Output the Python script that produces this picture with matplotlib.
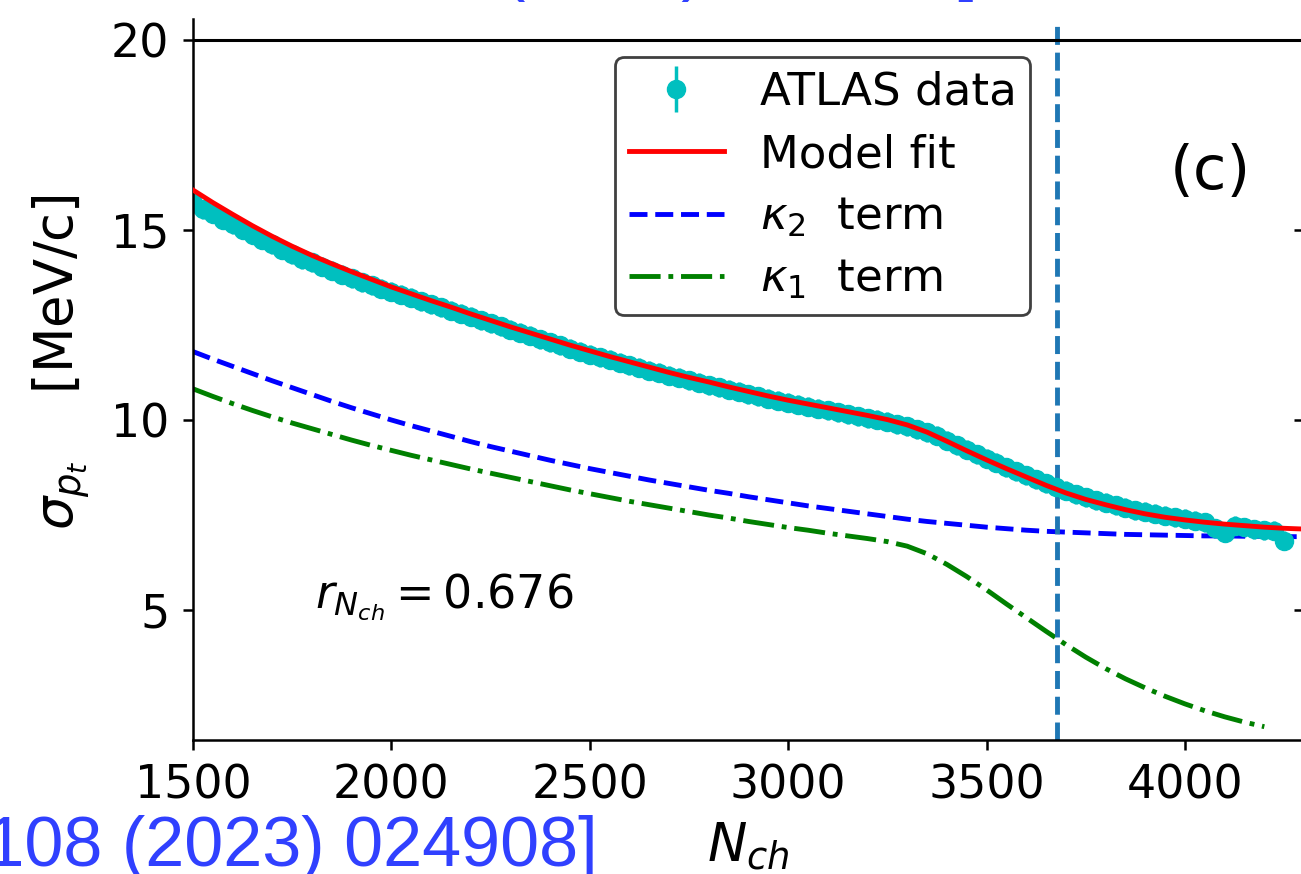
import numpy as np
import matplotlib
matplotlib.use("Agg")
import matplotlib.pyplot as plt
from matplotlib.lines import Line2D

# ATLAS points, bins of 25 in N_ch
n_ch = np.arange(1500, 4251, 25)
sigma_data = [
    15.70, 15.55, 15.42, 15.27, 15.15, 15.00, 14.87, 14.74, 14.62, 14.48,
    14.36, 14.23, 14.15, 14.03, 13.93, 13.82, 13.73, 13.63, 13.55, 13.45,
    13.38, 13.29, 13.21, 13.12, 13.05, 12.96, 12.88, 12.80, 12.71, 12.63,
    12.55, 12.47, 12.38, 12.30, 12.21, 12.13, 12.05, 11.97, 11.88, 11.80,
    11.72, 11.65, 11.58, 11.51, 11.44, 11.37, 11.30, 11.24, 11.17, 11.11,
    11.04, 10.98, 10.92, 10.86, 10.80, 10.74, 10.68, 10.62, 10.56, 10.51,
    10.45, 10.40, 10.35, 10.30, 10.25, 10.20, 10.15, 10.10, 10.05, 10.00,
    9.95, 9.89, 9.83, 9.76, 9.68, 9.58, 9.46, 9.34, 9.22, 9.10,
    8.98, 8.87, 8.76, 8.65, 8.54, 8.44, 8.34, 8.24, 8.14, 8.05,
    7.97, 7.89, 7.82, 7.75, 7.69, 7.63, 7.58, 7.53, 7.48, 7.44,
    7.40, 7.35, 7.31, 7.15, 7.03, 7.22, 7.18, 7.12, 7.10, 7.08,
    6.82,
]
sigma_err = 0.25

# model curves, every 50 in N_ch
n_fit = np.arange(1500, 4301, 50)
model_fit = [
    16.05, 15.72, 15.41, 15.11, 14.83, 14.57, 14.33, 14.11, 13.90, 13.70,
    13.50, 13.32, 13.14, 12.97, 12.79, 12.62, 12.45, 12.29, 12.13, 11.97,
    11.82, 11.67, 11.53, 11.39, 11.25, 11.12, 11.00, 10.87, 10.75, 10.63,
    10.52, 10.42, 10.32, 10.22, 10.12, 10.01, 9.87, 9.68, 9.44, 9.19,
    8.95, 8.72, 8.50, 8.28, 8.08, 7.91, 7.77, 7.64, 7.53, 7.44,
    7.37, 7.31, 7.26, 7.22, 7.18, 7.15, 7.13,
]
kappa2_term = [
    11.80, 11.60, 11.41, 11.22, 11.03, 10.85, 10.67, 10.49, 10.32, 10.16,
    10.00, 9.85, 9.71, 9.57, 9.43, 9.30, 9.18, 9.06, 8.94, 8.83,
    8.72, 8.62, 8.52, 8.42, 8.33, 8.24, 8.15, 8.07, 7.98, 7.90,
    7.82, 7.74, 7.67, 7.60, 7.53, 7.46, 7.39, 7.33, 7.28, 7.23,
    7.18, 7.14, 7.10, 7.07, 7.05, 7.03, 7.01, 6.99, 6.98, 6.97,
    6.96, 6.95, 6.95, 6.94, 6.94, 6.93, 6.93,
]
n_k1 = np.arange(1500, 4201, 50)
kappa1_term = [
    10.82, 10.62, 10.43, 10.25, 10.08, 9.92, 9.77, 9.62, 9.47, 9.33,
    9.20, 9.07, 8.95, 8.83, 8.71, 8.60, 8.49, 8.38, 8.27, 8.16,
    8.06, 7.96, 7.86, 7.77, 7.68, 7.59, 7.50, 7.42, 7.33, 7.25,
    7.17, 7.10, 7.02, 6.95, 6.88, 6.80, 6.68, 6.48, 6.20, 5.88,
    5.53, 5.16, 4.80, 4.44, 4.09, 3.76, 3.46, 3.19, 2.95, 2.73,
    2.53, 2.35, 2.19, 2.05, 1.93,
]
n_cut = 3677
r_text = r"$r_{N_{ch}} = 0.676$"
cite_top = "Rev. C 108 (2023) 024908]"
cite_bottom = "Phys. Rev. C 108 (2023) 024908]"

fig = plt.figure(figsize=(13.01, 8.74), dpi=100)
ax = fig.add_axes([193 / 1301, 1 - 740 / 874, 1111 / 1301, 721 / 874])

ax.errorbar(n_ch, sigma_data, yerr=sigma_err, fmt="o", color="c", ms=13,
            elinewidth=2.5, capsize=0, zorder=2)
ax.plot(n_fit, model_fit, color="red", lw=3.5, zorder=3)
ax.plot(n_fit, kappa2_term, color="blue", ls="--", lw=3.5)
ax.plot(n_k1, kappa1_term, color="green", ls="-.", lw=3.5)
ax.axvline(n_cut, color="#1f77b4", ls="--", lw=3.5)
ax.axhline(20, color="k", lw=2.2)

ax.set_xlim(1500, 4300)
ax.set_ylim(1.58, 20.55)
ax.set_xticks([1500, 2000, 2500, 3000, 3500, 4000])
ax.set_yticks([5, 10, 15, 20])
ax.spines["top"].set_visible(False)
ax.spines["right"].set_visible(False)
for s in ["left", "bottom"]:
    ax.spines[s].set_linewidth(1.8)
ax.tick_params(labelsize=33, length=7, width=1.8, pad=10)

sec = ax.secondary_yaxis("right")
sec.set_yticks([5, 10, 15, 20])
sec.tick_params(direction="in", length=7, width=1.8, labelright=False)

ax.set_xlabel(r"$N_{ch}$", fontsize=38, labelpad=8)
ax.set_ylabel(r"$\sigma_{p_t}$    [MeV/c]", fontsize=38)
ax.yaxis.set_label_coords(-0.09, 0.524)

handles = [
    ax.containers[0],
    Line2D([], [], color="red", lw=3.5),
    Line2D([], [], color="blue", ls="--", lw=3.5),
    Line2D([], [], color="green", ls="-.", lw=3.5),
]
labels = ["ATLAS data", "Model fit", r"$\kappa_2$  term", r"$\kappa_1$  term"]
leg = ax.legend(handles, labels, loc="upper left", bbox_to_anchor=(0.38, 0.947),
                borderaxespad=0, fontsize=32.5, handlelength=2.1,
                handletextpad=0.8, labelspacing=0.43, borderpad=0.3,
                framealpha=1, edgecolor="0.25")
leg.get_frame().set_linewidth(2)

ax.text(1807, 5.05, r_text, fontsize=33, va="baseline")
ax.text(3962, 16.5, "(c)", fontsize=44, va="center")

# citation text of the slide, cut by the crop
fig.text(978 / 1301, 1 + 13 / 874, cite_top, ha="right", va="baseline",
         color="#3040ff", fontsize=50.5, family="Liberation Sans")
fig.text(598 / 1301, 8 / 874, cite_bottom, ha="right", va="baseline",
         color="#3040ff", fontsize=50.5, family="Liberation Sans")

fig.savefig("out.png", dpi=100)
